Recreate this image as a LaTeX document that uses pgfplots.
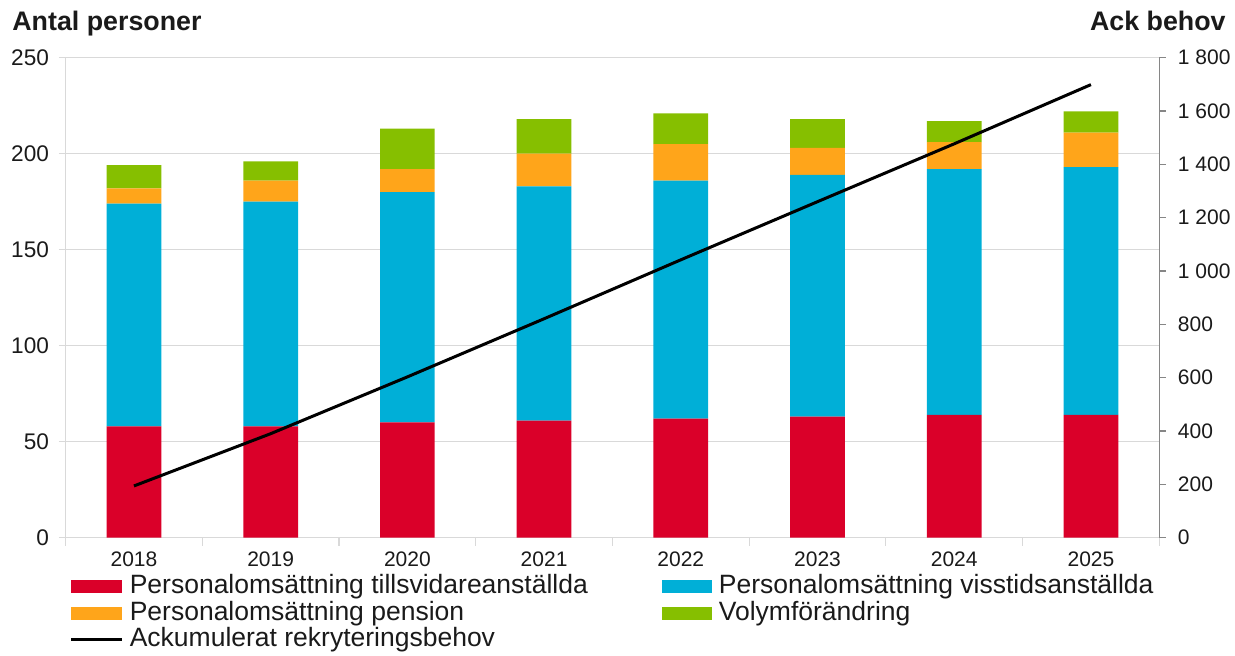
\documentclass[border=0pt]{standalone}
\usepackage{pgfplots}
\pgfplotsset{compat=1.18}
\usepackage{fontspec}
\setmainfont{Liberation Sans}
\definecolor{cred}{HTML}{DA0029}
\definecolor{cblue}{HTML}{00AFD7}
\definecolor{corange}{HTML}{FFA51A}
\definecolor{cgreen}{HTML}{86BF00}
\definecolor{gridgray}{HTML}{D9D9D9}
\definecolor{axgray}{HTML}{868686}
\definecolor{txt}{HTML}{1A1A1A}
\begin{document}
\begin{tikzpicture}
\begin{axis}[
  scale only axis, width=546.85pt, height=240pt,
  xmin=-0.5, xmax=7.5, ymin=0, ymax=250,
  ybar stacked, bar width=0.4,
  axis x line*=bottom, axis y line*=left,
  axis line style={draw=gridgray, line width=0.6pt},
  tick align=outside,
  xtick={0,...,7},
  xticklabels={2018,2019,2020,2021,2022,2023,2024,2025},
  major x tick style={draw=none},
  minor xtick={-0.5,0.5,1.5,2.5,3.5,4.5,5.5,6.5,7.5},
  minor x tick style={draw=gridgray, line width=0.6pt},
  minor tick length=4pt,
  ytick={0,50,...,250},
  yticklabels={0,50,100,150,200,250},
  major y tick style={draw=gridgray, line width=0.6pt},
  major tick length=3.3pt,
  ymajorgrids, grid style={draw=gridgray, line width=0.6pt},
  tick label style={font=\fontsize{10.5pt}{12pt}\selectfont, text=txt},
  yticklabel style={font=\fontsize{11.3pt}{13pt}\selectfont, xshift=-1.5pt},
  legend columns=2,
  legend cell align=left,
  legend style={draw=none, fill=none, at={(0,0)}, anchor=north west,
    xshift=2.2pt, yshift=-18pt, inner sep=0pt, outer sep=0pt,
    font=\fontsize{13.25pt}{13.5pt}\selectfont, text=txt,
    nodes={inner sep=0.1pt, text height=9.9pt, text depth=3.1pt},
    /tikz/every odd column/.append style={column sep=3.3pt},
    /tikz/every even column/.append style={column sep=37pt}},
  area legend,
  legend image code/.code={\fill[#1] (0pt,-3.3pt) rectangle (25pt,3.3pt);},
]
\coordinate (bl) at (rel axis cs:0,0);
\addplot[fill=cred, draw=none] coordinates {(0,58)(1,58)(2,60)(3,61)(4,62)(5,63)(6,64)(7,64)};
\addlegendentry{Personalomsättning tillsvidareanställda}
\addplot[fill=cblue, draw=none] coordinates {(0,116)(1,117)(2,120)(3,122)(4,124)(5,126)(6,128)(7,129)};
\addlegendentry{Personalomsättning visstidsanställda}
\addplot[fill=corange, draw=none] coordinates {(0,8)(1,11)(2,12)(3,17)(4,19)(5,14)(6,14)(7,18)};
\addlegendentry{Personalomsättning pension}
\addplot[fill=cgreen, draw=none] coordinates {(0,12)(1,10)(2,21)(3,18)(4,16)(5,15)(6,11)(7,11)};
\addlegendentry{Volymförändring}
\addlegendimage{legend image code/.code={\draw[black, line width=1.5pt] (0pt,0pt) -- (25pt,0pt);}}
\addlegendentry{Ackumulerat rekryteringsbehov}
\end{axis}
\begin{axis}[
  scale only axis, width=546.85pt, height=240pt,
  xmin=-0.5, xmax=7.5, ymin=0, ymax=1800,
  axis y line*=right, axis x line=none,
  y axis line style={draw=axgray, line width=0.6pt},
  tick align=outside,
  ytick={0,200,...,1800},
  yticklabels={0,200,400,600,800,{1 000},{1 200},{1 400},{1 600},{1 800}},
  major y tick style={draw=axgray, line width=0.6pt},
  major tick length=3.3pt,
  tick label style={font=\fontsize{10.5pt}{12pt}\selectfont, text=txt},
  yticklabel style={xshift=2.5pt},
]
\addplot[black, line width=1.5pt, mark=none] coordinates {(0,194)(1,390)(2,603)(3,821)(4,1042)(5,1260)(6,1477)(7,1699)};
\end{axis}
\node[anchor=base west, inner sep=0pt, text=txt, font=\bfseries\fontsize{13.4pt}{15pt}\selectfont] at ([xshift=-26.8pt,yshift=253.35pt]bl) {Antal personer};
\node[anchor=base east, inner sep=0pt, text=txt, font=\bfseries\fontsize{13.4pt}{15pt}\selectfont] at ([xshift=580.2pt,yshift=253.35pt]bl) {Ack behov};
\pgfresetboundingbox
\path[use as bounding box] ([xshift=-32.8pt,yshift=-59.15pt]bl) rectangle ([xshift=584.7pt,yshift=268.85pt]bl);
\end{tikzpicture}
\end{document}
